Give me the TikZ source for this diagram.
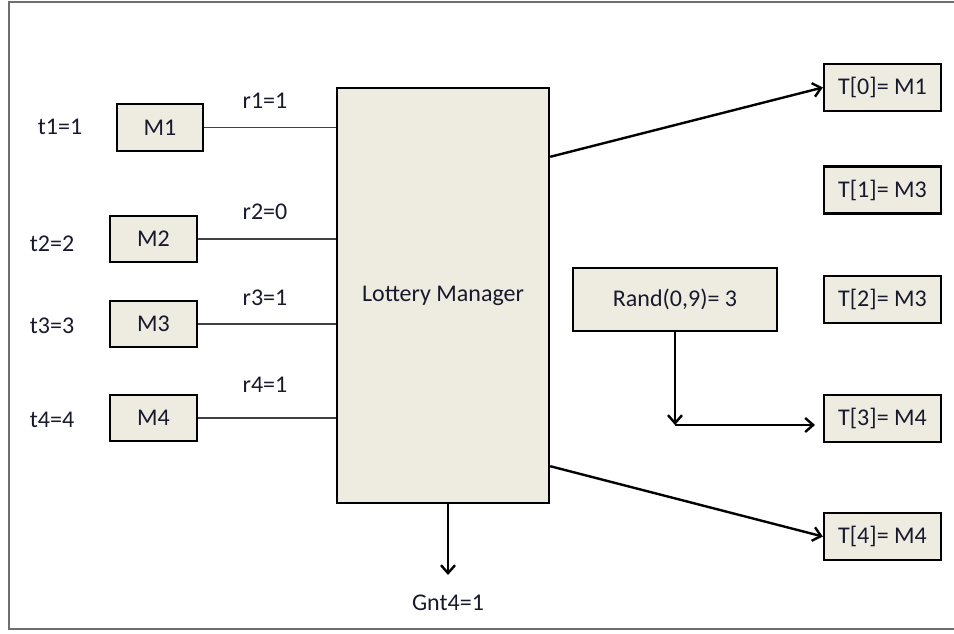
\documentclass[tikz,border=0pt]{standalone}
\usepackage{fontspec}
\setmainfont{Carlito}
\usetikzlibrary{arrows.meta,calc}
\definecolor{boxfill}{RGB}{238,236,225}
\definecolor{inkcol}{RGB}{25,25,45}
\definecolor{framecol}{RGB}{110,110,110}
\begin{document}
\begin{tikzpicture}[x=1pt,y=-1pt,
  every node/.style={text=inkcol,font=\fontsize{24}{28}\selectfont},
  blk/.style={draw=black,line width=2.4pt,fill=boxfill,rectangle,inner sep=0pt},
  mbox/.style={blk,minimum width=87pt,minimum height=46pt},
  tbox/.style={blk,minimum width=117pt,minimum height=47pt},
  wire/.style={draw=black!75,line width=1.3pt},
  arr/.style={draw=black,line width=2.4pt,-{Straight Barb[length=8pt,width=14pt,line width=2.4pt]}},
  lbl/.style={inner sep=0pt}]
\useasboundingbox (0,0) rectangle (954,634);
% outer frame (open on the right)
\draw[framecol,line width=2pt] (954,2) -- (9,2) -- (9,629) -- (954,629);

% manager block
\node[blk,minimum width=212pt,minimum height=415pt] (lm) at (443,295.5) {Lottery Manager};

% machines with their tickets
\node[mbox,minimum width=86pt,minimum height=47pt] (m1) at (160,127.5) {M1};
\node[mbox] (m2) at (153.5,239) {M2};
\node[mbox] (m3) at (153.5,324) {M3};
\node[mbox] (m4) at (153.5,418) {M4};
\node[lbl] (t1) at (60,127) {t1=1};
\node[lbl] (t2) at (52,244) {t2=2};
\node[lbl] (t3) at (52,326) {t3=3};
\node[lbl] (t4) at (52,420) {t4=4};

% request lines
\draw[wire] (m1.east) -- (lm.west |- m1.east);
\draw[wire] (m2.east) -- (lm.west |- m2.east);
\draw[wire] (m3.east) -- (lm.west |- m3.east);
\draw[wire] (m4.east) -- (lm.west |- m4.east);
\node[lbl] (r1) at (265,101) {r1=1};
\node[lbl] (r2) at (265,212) {r2=0};
\node[lbl] (r3) at (265,298) {r3=1};
\node[lbl] (r4) at (265,385) {r4=1};

% ticket table
\node[tbox] (T0) at (882.5,87.5) {T[0]= M1};
\node[tbox] (T1) at (882.5,190) {T[1]= M3};
\node[tbox] (T2) at (882.5,299.5) {T[2]= M3};
\node[tbox] (T3) at (882.5,418.5) {T[3]= M4};
\node[tbox] (T4) at (882.5,536.5) {T[4]= M4};

% random draw
\node[blk,minimum width=204pt,minimum height=63pt] (rnd) at (675,299.5) {Rand(0,9)= 3};
\coordinate (bend) at (675,425);
\coordinate (pick) at (815,425);
\draw[arr] (rnd.south) -- (bend);
\draw[arr] (bend) -- (pick);

% manager outputs
\draw[arr] ($(lm.north east)+(0,70)$) -- (T0.west);
\draw[arr] ($(lm.south east)+(0,-38)$) -- (T4.west);
\coordinate (gtop) at (448,503);
\coordinate (gend) at (448,575);
\draw[arr] (gtop) -- (gend);
\node[lbl] (gnt) at (448,603) {Gnt4=1};
\end{tikzpicture}
\end{document}
